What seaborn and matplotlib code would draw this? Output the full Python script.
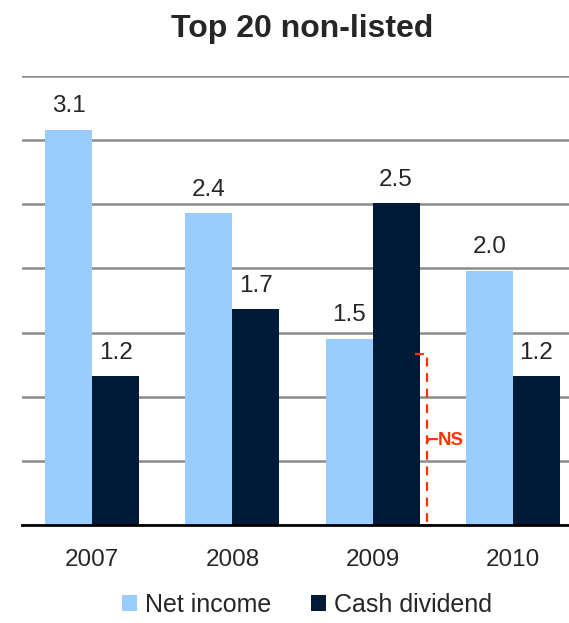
import numpy as np
import pandas as pd

import matplotlib
matplotlib.use("Agg")
import matplotlib.pyplot as plt
import seaborn as sns

sns.set_theme(style="white")
plt.rcParams['font.family'] = ['Liberation Sans', 'DejaVu Sans']

# -- Data (heights, labels as printed) -- #
years = ['2007', '2008', '2009', '2010']
net_income = [3.08, 2.43, 1.45, 1.98]
cash_dividend = [1.16, 1.68, 2.51, 1.16]
net_income_labels = ['3.1', '2.4', '1.5', '2.0']
cash_dividend_labels = ['1.2', '1.7', '2.5', '1.2']
series_names = ['Net income', 'Cash dividend']
colors = ['#99CCFF', '#001A38']

df = pd.DataFrame({
    'Year': years * 2,
    'Value': net_income + cash_dividend,
    'Series': [series_names[0]] * len(years) + [series_names[1]] * len(years),
})

fig = plt.figure(figsize=(5.69, 6.23), dpi=100)
ax = fig.add_axes([22 / 569, 98 / 623, 561 / 569, 449 / 623])

sns.barplot(data=df, x='Year', y='Value', hue='Series', palette=colors,
            width=0.67, saturation=1, linewidth=0, ax=ax, legend=True,
            zorder=3)

ax.set_ylim(0, 3.5)
ax.set_xlim(-0.5, 3.5)
ax.set_yticks(np.arange(0, 3.51, 0.5))
ax.set_yticklabels([])
ax.grid(axis='y', color='#8c8c8c', linewidth=1.8, zorder=0)
ax.set_axisbelow(True)
for s in ['left', 'right', 'top']:
    ax.spines[s].set_visible(False)
ax.spines['bottom'].set_color('black')
ax.spines['bottom'].set_linewidth(2)
ax.spines['bottom'].set_zorder(5)
ax.tick_params(axis='both', length=0)
ax.tick_params(axis='x', labelsize=17.5, pad=17)
ax.set_xlabel('')
ax.set_ylabel('')

# Value labels
for container, lbls in zip(ax.containers, [net_income_labels, cash_dividend_labels]):
    ax.bar_label(container, labels=lbls, padding=9, fontsize=17.5)

# NS bracket
ns_color = '#FF3300'
ax.plot([2.305, 2.386, 2.386, 2.37], [1.33, 1.33, 0.01, 0.01],
        color=ns_color, linestyle=(0, (4, 3)), linewidth=1.6, zorder=6,
        clip_on=False)
ax.plot([2.386, 2.40, 2.46], [0.64, 0.67, 0.67], color=ns_color,
        linewidth=1.6, zorder=6)
ax.text(2.465, 0.66, 'NS', color=ns_color, fontsize=13.5, fontweight='bold',
        va='center', ha='left', zorder=6)

fig.suptitle('Top 20 non-listed', fontsize=23, fontweight='bold',
             x=302 / 569, y=0.977)

handles, labels = ax.get_legend_handles_labels()
ax.legend_.remove()
fig.legend(handles, labels, loc='lower center',
           bbox_to_anchor=(307 / 569, -0.026),
           ncol=2, frameon=False, fontsize=18, handlelength=0.6,
           handleheight=0.6, handletextpad=0.3, columnspacing=1.6)

fig.savefig('out.png', dpi=100)
plt.close()
